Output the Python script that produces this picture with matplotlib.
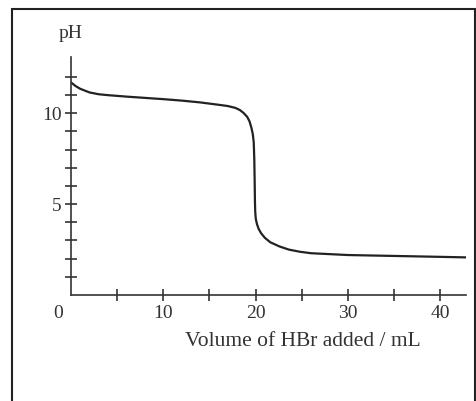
import matplotlib.pyplot as plt
from matplotlib.patches import Rectangle
from matplotlib.ticker import FixedLocator, FuncFormatter

plt.rcParams['font.family'] = ['Liberation Serif', 'DejaVu Serif']

# titration curve
volume = [0, 0.25, 0.5, 1, 1.5, 2, 3, 4, 6, 8, 10, 12, 14, 16, 17, 17.8, 18.3,
          18.7, 19.1, 19.35, 19.55, 19.7, 19.8, 19.86, 19.9, 19.93, 19.96, 20.02,
          20.15, 20.35, 20.6, 21, 21.6, 22.6, 23.6, 24.8, 26, 28, 30, 35, 40, 42.8]
ph = [11.7, 11.6, 11.5, 11.35, 11.25, 11.15, 11.05, 11.0, 10.92, 10.85, 10.78,
      10.7, 10.6, 10.47, 10.4, 10.3, 10.18, 10.02, 9.8, 9.55, 9.2, 8.85, 8.4,
      7.5, 6.3, 5.2, 4.6, 4.2, 3.9, 3.62, 3.4, 3.15, 2.9, 2.67, 2.5, 2.38, 2.3,
      2.25, 2.2, 2.15, 2.1, 2.07]

x_ticks = [5, 10, 15, 20, 25, 30, 35, 40]
y_ticks = [1, 2, 3, 4, 5, 6, 7, 8, 9, 10, 11, 12]

ink = '#333333'

fig = plt.figure(figsize=(4.77, 4.01), dpi=100)
ax = fig.add_axes([71 / 477, 106 / 401, 395 / 477, 238 / 401])
ax.plot(volume, ph, color='#222222', lw=1.6)

ax.set_xlim(0, 42.8)
ax.set_ylim(0, 13.1)
ax.spines['top'].set_visible(False)
ax.spines['right'].set_visible(False)
for s in ['left', 'bottom']:
    ax.spines[s].set_color(ink)
    ax.spines[s].set_linewidth(1.2)

ax.xaxis.set_major_locator(FixedLocator(x_ticks))
ax.yaxis.set_major_locator(FixedLocator(y_ticks))
ax.xaxis.set_major_formatter(FuncFormatter(lambda v, p: '%d' % v if v % 10 == 0 else ''))
ax.yaxis.set_major_formatter(FuncFormatter(lambda v, p: '%d' % v if v in (5, 10) else ''))
ax.tick_params(direction='inout', length=9, width=1.2, color=ink, labelcolor=ink,
               labelsize=14)
ax.tick_params(axis='x', pad=3)
ax.tick_params(axis='y', pad=2)

fig.text(58 / 477, 1 - 313 / 401, '0', ha='center', va='center', fontsize=14, color=ink)
fig.text(71 / 477, 1 - 33 / 401, 'pH', ha='center', va='center', fontsize=14, color=ink)
fig.text(303 / 477, 1 - 342 / 401, 'Volume of HBr added / mL', ha='center', va='center',
         fontsize=15.5, color=ink)

fig.patches.append(Rectangle((12 / 477, -0.1), 463.5 / 477, 1.1 - 9 / 401,
                             transform=fig.transFigure, fill=False, lw=1.5,
                             edgecolor='#222222'))

fig.savefig('out.png', dpi=100)
